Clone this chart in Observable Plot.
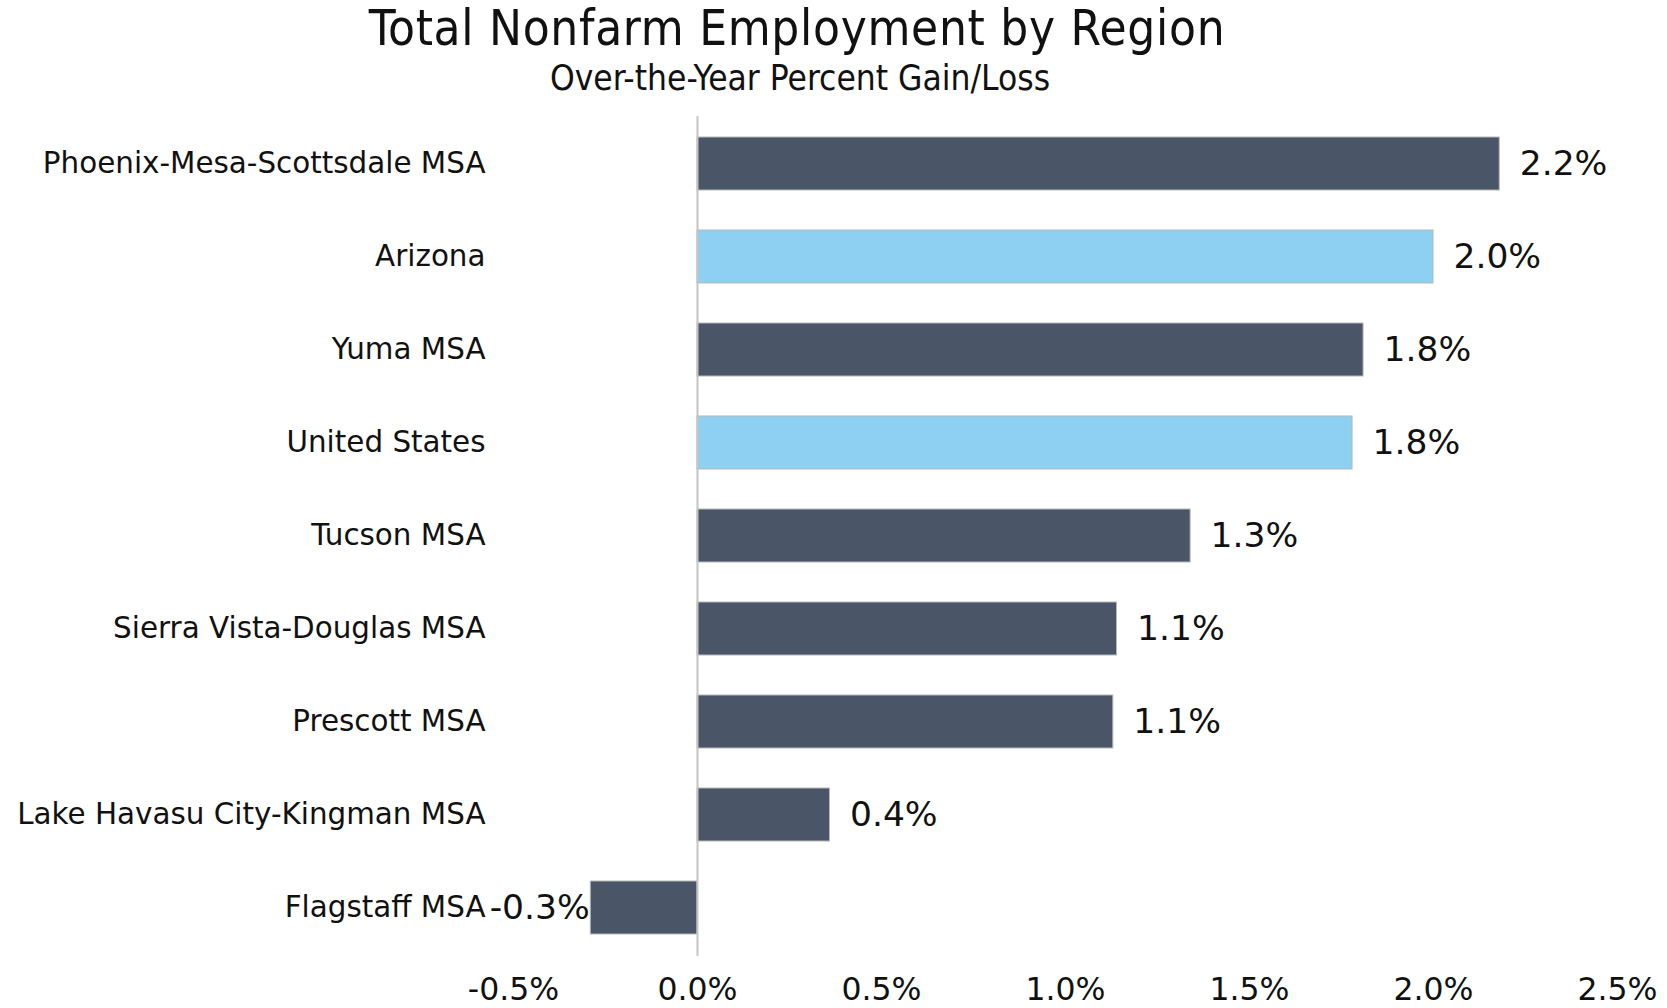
<!DOCTYPE html>
<html>
<head>
<meta charset="utf-8">
<script src="https://cdn.jsdelivr.net/npm/d3@7"></script>
<script src="https://cdn.jsdelivr.net/npm/@observablehq/plot@0.6"></script>
<style>
  html, body { margin: 0; padding: 0; background: #fff; }
  #wrap { position: relative; width: 1667px; height: 1008px; overflow: hidden; }
  #title { position: absolute; left: 0; width: 1594px; top: 2.4px; text-align: center;
    font-family: "DejaVu Sans Condensed", "DejaVu Sans", sans-serif; font-stretch: condensed;
    font-size: 49px; line-height: 53px; letter-spacing: 0.7px; color: #111; }
  #subtitle { position: absolute; left: 0; width: 1600px; top: 59.5px; text-align: center;
    font-family: "DejaVu Sans Condensed", "DejaVu Sans", sans-serif; font-stretch: condensed;
    font-size: 35px; line-height: 37px; color: #111; }
  #chart { position: absolute; left: 0; top: 110px; }
</style>
</head>
<body>
<div id="wrap">
  <div id="title">Total Nonfarm Employment by Region</div>
  <div id="subtitle">Over-the-Year Percent Gain/Loss</div>
  <div id="chart"></div>
</div>
<script>
const regions = [
  "Phoenix-Mesa-Scottsdale MSA",
  "Arizona",
  "Yuma MSA",
  "United States",
  "Tucson MSA",
  "Sierra Vista-Douglas MSA",
  "Prescott MSA",
  "Lake Havasu City-Kingman MSA",
  "Flagstaff MSA"
];
const values = [2.18, 2.00, 1.81, 1.78, 1.34, 1.14, 1.13, 0.36, -0.29];
const highlighted = ["Arizona", "United States"];
const xTicks = [-0.5, 0, 0.5, 1.0, 1.5, 2.0, 2.5];

const data = regions.map((r, i) => ({region: r, value: values[i], hl: highlighted.includes(r)}));
const fmt = v => v.toFixed(1) + "%";

const chart = Plot.plot({
  width: 1667,
  height: 898,
  marginLeft: 513,
  marginRight: 50,
  marginTop: 6,
  marginBottom: 52,
  style: {fontFamily: "DejaVu Sans, sans-serif", fontSize: "29px", color: "#111", background: "#fff"},
  x: {domain: [-0.5, 2.5], axis: null, label: null},
  y: {domain: regions, paddingInner: 0.43, paddingOuter: 0.215, axis: null, label: null},
  marks: [
    Plot.barX(data, {x: "value", y: "region", fill: d => d.hl ? "#8dd0f2" : "#4a5668", stroke: "#b8b8b8", strokeWidth: 1}),
    Plot.ruleX([0], {stroke: "#c4c4c4", strokeWidth: 2}),
    Plot.text(data.filter(d => d.value >= 0), {x: "value", y: "region", text: d => fmt(d.value), textAnchor: "start", dx: 20, fontSize: 34.5, fill: "#111"}),
    Plot.text(data.filter(d => d.value < 0), {x: "value", y: "region", text: d => fmt(d.value), textAnchor: "end", dx: -1, fontSize: 34.5, fill: "#111"}),
    Plot.axisX({ticks: xTicks, tickFormat: fmt, tickSize: 0, tickPadding: 21, fontSize: 31.5, anchor: "bottom", label: null}),
    Plot.axisY({tickSize: 0, tickPadding: 28, fontSize: 29.4, anchor: "left", label: null})
  ]
});
document.getElementById("chart").appendChild(chart);
</script>
</body>
</html>
